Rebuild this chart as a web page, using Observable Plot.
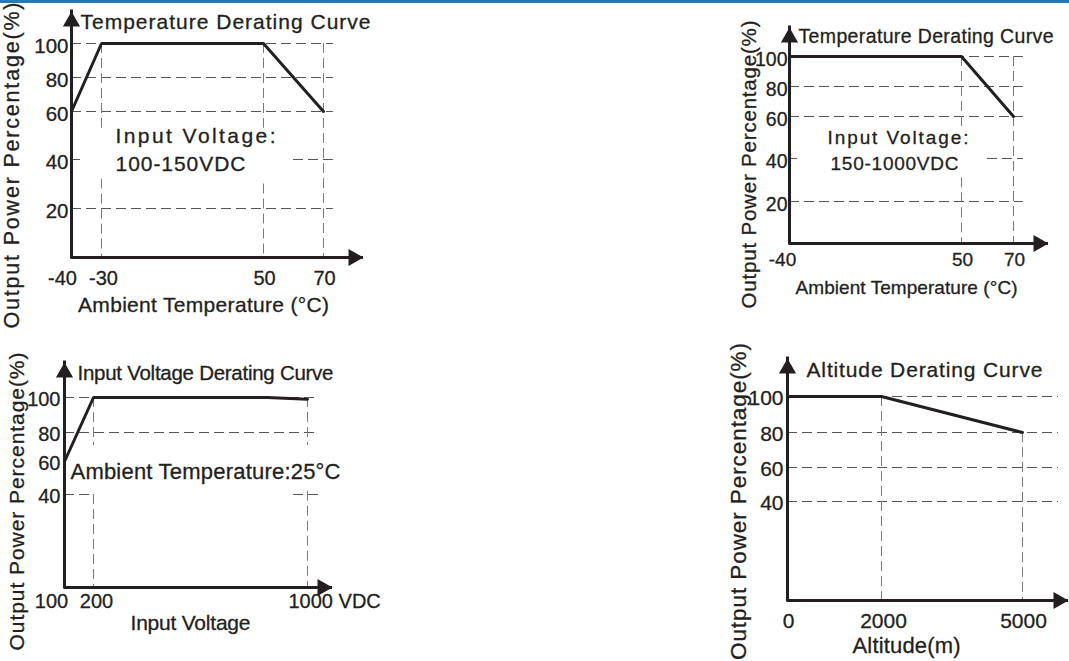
<!DOCTYPE html>
<html><head><meta charset="utf-8">
<script src="https://cdn.jsdelivr.net/npm/d3@7"></script>
<script src="https://cdn.jsdelivr.net/npm/@observablehq/plot@0.6"></script>
<style>
html,body{margin:0;padding:0;background:#fff;}
#page{position:relative;width:1069px;height:661px;overflow:hidden;background:#fff;}
#bar{position:absolute;left:0;top:0;width:1069px;height:3px;background:#1b7bc4;}
#page svg{position:absolute;overflow:visible;}
</style></head>
<body><div id="page"><div id="bar"></div></div>
<script>
// ---------- data ----------
// Panel A: temperature derating, input 100-150VDC
const tempA = [-40, -30, 50, 70];
const powerA = [60, 100, 100, 60];
const xTicksA = [-40, -30, 50, 70];
const xLabelsA = ["-40", "-30", "50", "70"];
const yTicksA = [20, 40, 60, 80, 100];
// Panel B: temperature derating, input 150-1000VDC
const tempB = [-40, 50, 70];
const powerB = [100, 100, 60];
const xTicksB = [-40, 50, 70];
const xLabelsB = ["-40", "50", "70"];
const yTicksB = [20, 40, 60, 80, 100];
// Panel C: input voltage derating
const voltC = [100, 200, 850, 1000];
const powerC = [60, 100, 100, 99];
const xTicksC = [100, 200, 1000];
const xLabelsC = ["100", "200", "1000 VDC"];
const yTicksC = [40, 60, 80, 100];
// Panel D: altitude derating
const altD = [0, 2000, 5000];
const powerD = [100, 100, 80];
const xTicksD = [0, 2000, 5000];
const xLabelsD = ["0", "2000", "5000"];
const yTicksD = [40, 60, 80, 100];

const yTitle = "Output Power Percentage(%)";
const tempTitle = "Temperature Derating Curve";
const tempAxis = "Ambient Temperature (°C)";

// ---------- style ----------
const INK = "#231f20";
const GRIDH = "#555555";
const GRIDV = "#7a7a7a";
const FONT = "'Liberation Sans', Arial, sans-serif";
const BOLDEN = {stroke: INK, strokeWidth: 0.3, paintOrder: "stroke"};

function panel(cfg) {
  const {left, top, w, h, m} = cfg;
  const pts = cfg.xs.map((v, i) => ({x: v, y: cfg.ys[i]}));
  const T = (s, px, py, o) => Plot.text([s], {
    frameAnchor: "top-left", text: d => d, dx: px - m.l, dy: py - m.t,
    lineAnchor: "bottom", fill: INK, ...BOLDEN, ...o
  });
  const marks = [
    Plot.ruleY(cfg.gridH, {y: "y", x1: "x1", x2: "x2", stroke: GRIDH, strokeWidth: 1, strokeDasharray: "10,5"}),
    Plot.ruleX(cfg.gridV, {x: "x", y1: "y1", y2: "y2", stroke: GRIDV, strokeWidth: 1, strokeDasharray: "10,5"}),
    Plot.line(pts, {x: "x", y: "y", stroke: INK, strokeWidth: 3, strokeLinejoin: "miter"}),
    Plot.ruleX([cfg.xDomain[0]], {stroke: INK, strokeWidth: 3, strokeLinecap: "square"}),
    Plot.ruleY([0], {stroke: INK, strokeWidth: 3}),
    Plot.dot([0], {frameAnchor: "top-left", symbol: "triangle", r: 6.4, fill: INK, dy: 10}),
    Plot.dot([0], {frameAnchor: "bottom-right", symbol: "triangle", r: 6.4, fill: INK, rotate: 90, dx: -10}),
    Plot.text(cfg.yTicks, {y: d => d, frameAnchor: "left", textAnchor: "end", dx: -cfg.yPad, dy: cfg.yDy,
      text: d => String(d), fontSize: cfg.yFont, fill: INK, ...BOLDEN}),
    ...cfg.xTicks.map((t, i) => Plot.text([t], {x: d => d, frameAnchor: "bottom", lineAnchor: "top",
      dy: cfg.xPad, dx: cfg.xDx[i], textAnchor: (cfg.xAnchor || [])[i] || "middle",
      text: () => cfg.xLabels[i], fontSize: cfg.xFont, fill: INK, ...BOLDEN})),
    ...cfg.texts.map(t => T(t.s, t.px, t.py, {fontSize: t.size, textAnchor: t.anchor || "start", rotate: t.rotate || 0}))
  ];
  const svg = Plot.plot({
    width: w, height: h,
    marginLeft: m.l, marginRight: m.r, marginTop: m.t, marginBottom: m.b,
    x: {type: "linear", domain: cfg.xDomain, range: cfg.xRange, axis: null},
    y: {type: "linear", domain: cfg.yDomain, range: cfg.yRange, axis: null},
    style: {fontFamily: FONT, color: INK, background: "transparent", overflow: "visible"},
    marks
  });
  svg.style.left = left + "px";
  svg.style.top = top + "px";
  const lens = {};
  cfg.texts.forEach(t => { if (t.len) lens[t.s] = t.len; });
  svg.querySelectorAll("text").forEach(el => {
    const L = lens[el.textContent];
    if (L) { el.setAttribute("textLength", L); el.setAttribute("lengthAdjust", "spacing"); }
  });
  document.getElementById("page").appendChild(svg);
}

// Panel A
panel({
  left: 0, top: 0, w: 380, h: 330, m: {l: 71, r: 17, t: 11, b: 73},
  xDomain: [-40, -30, 50, 70], xRange: [71, 101, 263, 323],
  yDomain: [0, 20, 40, 60, 80, 100], yRange: [257, 208, 159, 111, 77, 43],
  xs: tempA, ys: powerA,
  gridH: [
    {y: 100, x1: -40, x2: 73.3}, {y: 80, x1: -40, x2: 73.3}, {y: 60, x1: -40, x2: 73.3},
    {y: 40, x1: -40, x2: -37}, {y: 40, x1: 60, x2: 73.3}, {y: 20, x1: -40, x2: 73.3}
  ],
  gridV: [
    {x: -30, y1: 100, y2: 53}, {x: -30, y1: 32, y2: 0},
    {x: 50, y1: 100, y2: 53}, {x: 50, y1: 30, y2: 0},
    {x: 70, y1: 100, y2: 0}
  ],
  xTicks: xTicksA, xLabels: xLabelsA, xDx: [-9, 2, 1, 1], xPad: 13, xFont: 20,
  yTicks: yTicksA, yPad: 3, yDy: 3, yFont: 20.5,
  texts: [
    {s: tempTitle, px: 80, py: 28, size: 21, len: 290},
    {s: tempAxis, px: 203, py: 311, size: 21, len: 251, anchor: "middle"},
    {s: yTitle, px: 18, py: 165, size: 21.5, len: 326, anchor: "middle", rotate: -90},
    {s: "Input Voltage:", px: 115, py: 142, size: 21, len: 160},
    {s: "100-150VDC", px: 115, py: 170, size: 21, len: 130}
  ]
});

// Panel B
panel({
  left: 720, top: 0, w: 349, h: 320, m: {l: 69, r: 21, t: 27, b: 77},
  xDomain: [-40, 50, 70], xRange: [69, 241, 293],
  yDomain: [0, 20, 40, 60, 80, 100], yRange: [243, 201, 158, 116, 86, 56],
  xs: tempB, ys: powerB,
  gridH: [
    {y: 100, x1: -40, x2: 73.8}, {y: 80, x1: -40, x2: 73.8}, {y: 60, x1: -40, x2: 73.8},
    {y: 40, x1: -40, x2: -35.8}, {y: 40, x1: 60, x2: 73.8}, {y: 20, x1: -40, x2: 73.8}
  ],
  gridV: [
    {x: 50, y1: 100, y2: 54}, {x: 50, y1: 31, y2: 0},
    {x: 70, y1: 100, y2: 0}
  ],
  xTicks: xTicksB, xLabels: xLabelsB, xDx: [-7, 1, 1], xPad: 9, xFont: 19,
  yTicks: yTicksB, yPad: 2, yDy: 3, yFont: 19.5,
  texts: [
    {s: tempTitle, px: 78, py: 42, size: 19.5, len: 255},
    {s: tempAxis, px: 186, py: 293, size: 19, len: 222, anchor: "middle"},
    {s: yTitle, px: 35, py: 164, size: 20.5, len: 288, anchor: "middle", rotate: -90},
    {s: "Input Voltage:", px: 107, py: 143, size: 19, len: 141},
    {s: "150-1000VDC", px: 110, py: 169, size: 19, len: 128}
  ]
});

// Panel C
panel({
  left: 0, top: 330, w: 380, h: 331, m: {l: 64, r: 48, t: 32, b: 74},
  xDomain: [100, 200, 1000], xRange: [64, 93, 307],
  yDomain: [0, 40, 60, 80, 100], yRange: [257, 164, 131, 102, 67],
  xs: voltC, ys: powerC,
  gridH: [
    {y: 100, x1: 100, x2: 1041}, {y: 80, x1: 100, x2: 1041},
    {y: 40, x1: 100, x2: 190}, {y: 40, x1: 948, x2: 1041}
  ],
  gridV: [
    {x: 200, y1: 100, y2: 71}, {x: 200, y1: 40, y2: 0},
    {x: 1000, y1: 100, y2: 71}, {x: 1000, y1: 42, y2: 0}
  ],
  xTicks: xTicksC, xLabels: xLabelsC, xDx: [-13, 3, -19], xAnchor: ["middle", "middle", "start"], xPad: 6, xFont: 20,
  yTicks: yTicksC, yPad: 4, yDy: 2, yFont: 20,
  texts: [
    {s: "Input Voltage Derating Curve", px: 77, py: 49, size: 20.5, len: 256},
    {s: "Input Voltage", px: 190, py: 299, size: 21, len: 120, anchor: "middle"},
    {s: yTitle, px: 23, py: 171, size: 21, len: 298, anchor: "middle", rotate: -90},
    {s: "Ambient Temperature:25°C", px: 70, py: 148, size: 22, len: 270}
  ]
});

// Panel D
panel({
  left: 700, top: 330, w: 369, h: 331, m: {l: 87, r: 1, t: 28, b: 61},
  xDomain: [0, 5000], xRange: [87, 322],
  yDomain: [0, 40, 60, 80, 100], yRange: [270, 171, 137, 102, 66],
  xs: altD, ys: powerD,
  gridH: [
    {y: 100, x1: 0, x2: 5766}, {y: 80, x1: 0, x2: 5766},
    {y: 60, x1: 0, x2: 5766}, {y: 40, x1: 0, x2: 5766}
  ],
  gridV: [
    {x: 2000, y1: 100, y2: 0}, {x: 5000, y1: 80, y2: 0}
  ],
  xTicks: xTicksD, xLabels: xLabelsD, xDx: [1, 2, 1], xPad: 13, xFont: 21,
  yTicks: yTicksD, yPad: 4, yDy: 2, yFont: 21,
  texts: [
    {s: "Altitude Derating Curve", px: 106, py: 46, size: 21, len: 236},
    {s: "Altitude(m)", px: 206, py: 322, size: 22, len: 108, anchor: "middle"},
    {s: yTitle, px: 45, py: 171, size: 22.5, len: 317, anchor: "middle", rotate: -90}
  ]
});
</script>
</body></html>
